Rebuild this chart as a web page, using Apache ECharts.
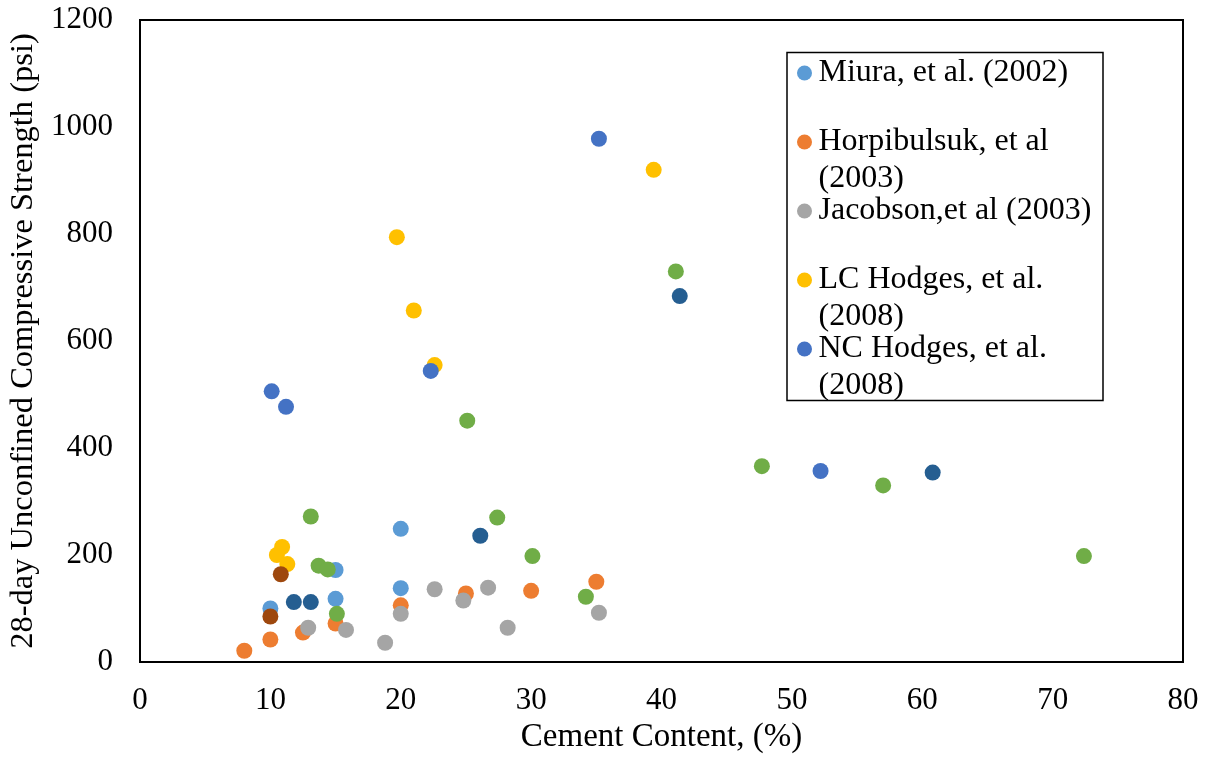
<!DOCTYPE html>
<html>
<head>
<meta charset="utf-8">
<title>28-day UCS vs Cement Content</title>
<script src="https://cdn.jsdelivr.net/npm/echarts@6/dist/echarts.min.js"></script>
<style>
  html, body { margin: 0; padding: 0; background: #ffffff; }
  #chart { width: 1208px; height: 764px; }
</style>
</head>
<body>
<div id="chart"></div>
<script>
// Cement content (%) and 28-day unconfined compressive strength (psi), one pair of arrays per study
const miuraX = [10, 15, 15, 20, 20];
const miuraY = [100, 118, 172, 138, 249];

const horpibulsukX = [8, 10, 12.5, 15, 20, 25, 30, 35];
const horpibulsukY = [21, 42, 55, 72, 106, 128, 133, 150];

const jacobsonX = [12.9, 15.8, 18.8, 20, 22.6, 24.8, 26.7, 28.2, 35.2];
const jacobsonY = [64, 60, 36, 90, 136, 115, 139, 64, 92];

const lcHodgesX = [10.5, 10.9, 11.3, 19.7, 21, 22.6, 39.4];
const lcHodgesY = [200, 215, 183, 794, 657, 555, 920];

const ncHodgesX = [10.1, 11.2, 22.3, 35.2, 52.2];
const ncHodgesY = [506, 477, 544, 978, 357];

const series6X = [13.1, 13.7, 14.4, 15.1, 25.1, 27.4, 30.1, 34.2, 41.1, 47.7, 57, 72.4];
const series6Y = [272, 180, 173, 90, 451, 270, 198, 122, 730, 366, 330, 198];

const series7X = [11.8, 13.1, 26.1, 41.4, 60.8];
const series7Y = [112, 112, 236, 684, 354];

const series8X = [10.8, 10];
const series8Y = [164, 85];

// Axis ranges and ticks
const xTicks = [0, 10, 20, 30, 40, 50, 60, 70, 80];
const yTicks = [0, 200, 400, 600, 800, 1000, 1200];

// Legend labels, wrapped over two lines; the blank first line keeps
// the marker level with the first line of text
const legendLabels = {
  'Miura, et al. (2002)': ' \nMiura, et al. (2002)\n ',
  'Horpibulsuk, et al (2003)': ' \nHorpibulsuk, et al\n(2003)',
  'Jacobson,et al (2003)': ' \nJacobson,et al (2003)\n ',
  'LC Hodges, et al. (2008)': ' \nLC Hodges, et al.\n(2008)',
  'NC Hodges, et al. (2008)': ' \nNC Hodges, et al.\n(2008)'
};

const seriesDefs = [
  { name: 'Miura, et al. (2002)', xs: miuraX, ys: miuraY, color: '#5B9BD5' },
  { name: 'Horpibulsuk, et al (2003)', xs: horpibulsukX, ys: horpibulsukY, color: '#ED7D31' },
  { name: 'Jacobson,et al (2003)', xs: jacobsonX, ys: jacobsonY, color: '#A5A5A5' },
  { name: 'LC Hodges, et al. (2008)', xs: lcHodgesX, ys: lcHodgesY, color: '#FFC000' },
  { name: 'NC Hodges, et al. (2008)', xs: ncHodgesX, ys: ncHodgesY, color: '#4472C4' },
  { name: 'Series6', xs: series6X, ys: series6Y, color: '#70AD47' },
  { name: 'Series7', xs: series7X, ys: series7Y, color: '#255E91' },
  { name: 'Series8', xs: series8X, ys: series8Y, color: '#9E480E' }
];

const FONT = 'Liberation Serif, Times New Roman, serif';

const chart = echarts.init(document.getElementById('chart'), null, { renderer: 'canvas' });

chart.setOption({
  animation: false,
  backgroundColor: '#ffffff',
  grid: {
    left: 140, top: 20, right: 25, bottom: 102,
    outerBoundsMode: 'none',
    containLabel: false,
    show: true, borderColor: '#000000', borderWidth: 2, backgroundColor: 'transparent'
  },
  xAxis: {
    type: 'value',
    min: xTicks[0], max: xTicks[xTicks.length - 1], interval: 10,
    name: 'Cement Content, (%)',
    nameLocation: 'middle', nameGap: 53,
    nameTextStyle: { fontFamily: FONT, fontSize: 33, color: '#000000' },
    axisLine: { show: true, onZero: false, lineStyle: { color: '#000000', width: 2 } },
    axisTick: { show: false },
    splitLine: { show: false },
    axisLabel: { fontFamily: FONT, fontSize: 31, color: '#000000', margin: 23, formatter: v => String(v) }
  },
  yAxis: {
    type: 'value',
    min: yTicks[0], max: yTicks[yTicks.length - 1], interval: 200,
    name: '28-day Unconfined Compressive Strength (psi)',
    nameLocation: 'middle', nameGap: 96, nameRotate: 90,
    nameTextStyle: { fontFamily: FONT, fontSize: 32.5, color: '#000000' },
    axisLine: { show: true, lineStyle: { color: '#000000', width: 2 } },
    axisTick: { show: false },
    splitLine: { show: false },
    axisLabel: { fontFamily: FONT, fontSize: 31, color: '#000000', margin: 27, formatter: v => String(v) }
  },
  legend: {
    orient: 'vertical',
    left: 797, top: 17.5,
    padding: 0,
    itemGap: -42,
    itemWidth: 18, itemHeight: 15,
    icon: 'circle',
    data: seriesDefs.slice(0, 5).map(s => s.name),
    formatter: name => legendLabels[name] || name,
    textStyle: {
      fontFamily: FONT, fontSize: 32, color: '#000000',
      lineHeight: 37
    },
    selectedMode: false
  },
  graphic: [{
    type: 'rect',
    shape: { x: 787, y: 52.5, width: 316, height: 348 },
    style: { fill: 'none', stroke: '#000000', lineWidth: 1.5 },
    z: 100
  }],
  series: seriesDefs.map(s => ({
    name: s.name,
    type: 'scatter',
    symbol: 'circle',
    symbolSize: 16,
    itemStyle: { color: s.color, opacity: 1 },
    emphasis: { disabled: true },
    data: s.xs.map((x, i) => [x, s.ys[i]])
  }))
});
</script>
</body>
</html>
